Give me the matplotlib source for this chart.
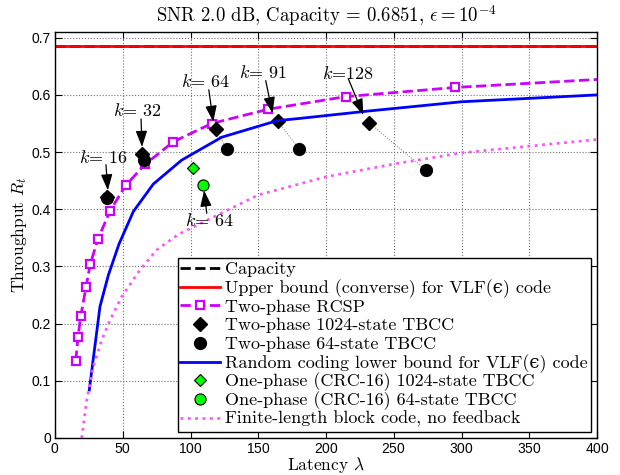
import numpy as np
import matplotlib
matplotlib.use("Agg")
import matplotlib.pyplot as plt
from matplotlib.offsetbox import TextArea
from matplotlib.transforms import Bbox

plt.rcParams['mathtext.fontset'] = 'cm'
plt.rcParams['axes.formatter.use_mathtext'] = True

capacity = 0.6851
upper_bound = 0.6851

# two-phase RCSP (last point has no marker)
rcsp_lat = [15.3, 17.0, 19.0, 22.9, 26.0, 31.7, 40.6, 52.2, 66.7, 87.3, 115.6, 157.4, 214.5, 295.2, 400.0]
rcsp_thr = [0.135, 0.177, 0.213, 0.264, 0.304, 0.348, 0.397, 0.442, 0.479, 0.518, 0.550, 0.575, 0.597, 0.613, 0.627]

# two-phase TBCC, k = 16, 32, 64, 91, 128
k_vals = [16, 32, 64, 91, 128]
tb1024_lat = [38.1, 64.5, 118.6, 164.3, 232.0]
tb1024_thr = [0.421, 0.497, 0.540, 0.554, 0.551]
tb64_lat = [38.3, 65.5, 126.7, 180.3, 273.8]
tb64_thr = [0.420, 0.487, 0.506, 0.505, 0.468]

# random coding lower bound
rc_lat = [25.3, 33.2, 39.4, 47.2, 57.8, 72.5, 93.5, 123.0, 164.0, 181.0, 232.0, 300.0, 400.0]
rc_thr = [0.084, 0.230, 0.285, 0.339, 0.396, 0.444, 0.486, 0.526, 0.555, 0.559, 0.572, 0.588, 0.600]

# one-phase (CRC-16), k = 64
one1024_lat, one1024_thr = [102.1], [0.473]
one64_lat, one64_thr = [109.0], [0.442]

# finite-length block code, no feedback
fl_lat = [19.7, 23.4, 28.3, 34.4, 40.6, 49.2, 62.7, 75.0, 91.0, 150.0, 200.5, 252.0, 301.3, 400.0]
fl_thr = [0.0, 0.066, 0.125, 0.171, 0.206, 0.247, 0.294, 0.329, 0.356, 0.425, 0.457, 0.480, 0.499, 0.522]

# annotations: label, text position, arrow tail, arrow tip
ann_labels = [r"$k$= 16", r"$k$= 32", r"$k$= 64", r"$k$= 91", r"$k$=128", r"$k$= 64"]
ann_text = [(35.4, 0.490), (60.5, 0.573), (110.7, 0.624), (153.5, 0.640), (216.0, 0.638), (113.7, 0.381)]
ann_tails = [(37.6, 0.478), (63.5, 0.558), (113.5, 0.609), (155.5, 0.625), (216.5, 0.628), (112.0, 0.393)]
ann_tips = [(39.0, 0.433), (64.2, 0.509), (116.8, 0.553), (160.5, 0.568), (227.5, 0.565), (110.0, 0.433)]

serif = ['cmr10', 'DejaVu Serif']

fig = plt.figure(figsize=(6.2, 4.75), dpi=100)
ax = fig.add_axes([0.0887, 0.0779, 0.8743, 0.8547])

cap_x = [0, 400]
ax.plot(cap_x, [capacity, capacity], 'k--', lw=2, label='Capacity')
ax.plot(cap_x, [upper_bound, upper_bound], color='red', lw=2,
        label='Upper bound (converse) for VLF(\u03f5) code')
ax.plot(rcsp_lat, rcsp_thr, '--', color='#cc00ff', lw=2, marker='s', ms=6,
        mfc='white', mec='#cc00ff', mew=1.6, markevery=list(range(len(rcsp_lat) - 1)),
        label='Two-phase RCSP')

# thin dotted links between matching TBCC points
for i in range(len(k_vals)):
    ax.plot([tb1024_lat[i], tb64_lat[i]], [tb1024_thr[i], tb64_thr[i]], ':', color='0.45', lw=0.7)

ax.plot(tb1024_lat, tb1024_thr, 'kD', ms=7, ls='none', label='Two-phase 1024-state TBCC')
ax.plot(tb64_lat, tb64_thr, 'ko', ms=8.5, ls='none', label='Two-phase 64-state TBCC')
ax.plot(rc_lat, rc_thr, color='blue', lw=2,
        label='Random coding lower bound for VLF(\u03f5) code')
ax.plot(one1024_lat, one1024_thr, 'D', ms=6, mfc='#00ff00', mec='k', mew=0.8, ls='none',
        label='One-phase (CRC-16) 1024-state TBCC')
ax.plot(one64_lat, one64_thr, 'o', ms=8, mfc='#00ff00', mec='k', mew=0.8, ls='none',
        label='One-phase (CRC-16) 64-state TBCC')
ax.plot(fl_lat, fl_thr, ':', color='#ff55ff', lw=2,
        label='Finite-length block code, no feedback')

for lab, txt, tail, tip in zip(ann_labels, ann_text, ann_tails, ann_tips):
    ax.text(txt[0], txt[1], lab, fontsize=13, family='cmr10', ha='center', va='center')
    ax.annotate('', xy=tip, xytext=tail,
                arrowprops=dict(arrowstyle='-|>,head_length=0.7,head_width=0.25', color='k',
                                lw=0.9, mutation_scale=14, shrinkA=0, shrinkB=0))

ax.set_xlim(0, 400)
ax.set_ylim(0, 0.71)
ax.set_xticks(np.arange(0, 401, 50))
ax.set_yticks(np.arange(0, 0.71, 0.1))
ax.set_yticklabels(['0', '0.1', '0.2', '0.3', '0.4', '0.5', '0.6', '0.7'])
ax.grid(True, ls=':', color='0.45', lw=0.8)
ax.tick_params(direction='in', top=True, right=True, labelsize=10, length=5, pad=3)
for lab in ax.get_xticklabels() + ax.get_yticklabels():
    lab.set_family('Liberation Sans')
for s in ax.spines.values():
    s.set_linewidth(1.0)

ax.set_xlabel(r'Latency $\lambda$', fontsize=12.5, family='cmr10', labelpad=-1)
ax.set_ylabel(r'Throughput $R_t$', fontsize=12.5, family='cmr10', labelpad=2)
ax.set_title(r'SNR 2.0 dB, Capacity = 0.6851, $\epsilon = 10^{-4}$', fontsize=13.5, family='cmr10', pad=7)

leg = ax.legend(loc='lower right', prop={'family': serif, 'size': 13}, fancybox=False,
                edgecolor='k', framealpha=1, handlelength=2.2, handletextpad=0.3,
                labelspacing=0.0, borderpad=0.15, borderaxespad=0.35)
leg.get_frame().set_linewidth(1.0)

# give every legend row the same height (parentheses otherwise make rows uneven)
row_h, row_d = 18.7, 5.0   # pixels
for ta in leg.findobj(TextArea):
    if ta.get_text() == '':
        continue
    def fixed_bbox(renderer, orig=ta.get_bbox):
        bb = orig(renderer)
        return Bbox.from_bounds(bb.x0, -row_d, bb.width, row_h)
    ta.get_bbox = fixed_bbox

fig.savefig('out.png', dpi=100)
